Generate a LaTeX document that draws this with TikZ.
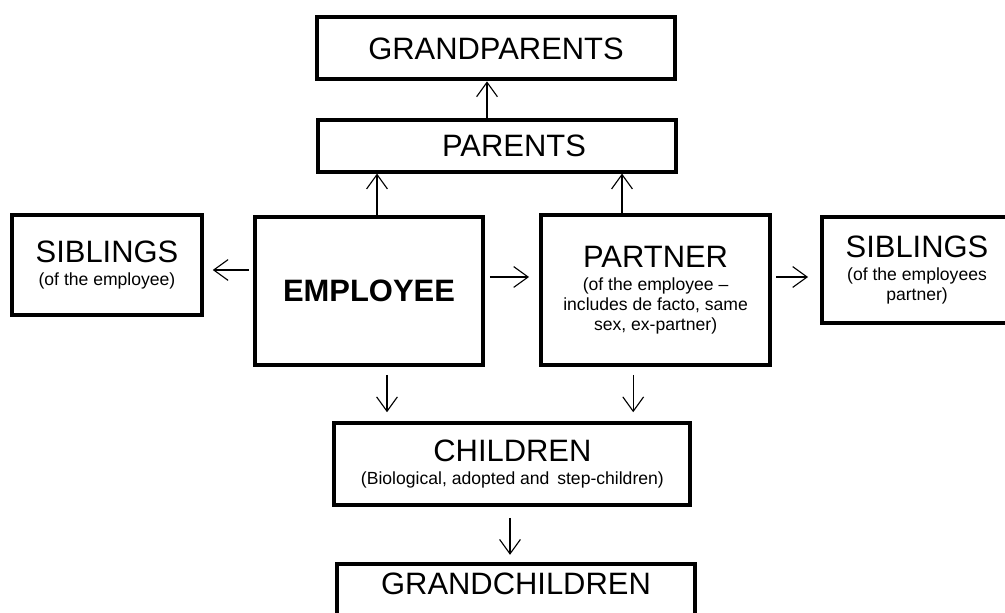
\documentclass[tikz,border=0pt]{standalone}
\usepackage{fontspec}
\setmainfont{Liberation Sans}
\usepackage{tikz}
\usetikzlibrary{arrows.meta, positioning, calc}

\newcommand{\headtxt}{\fontsize{22}{14.2}\selectfont}
\newcommand{\subtxt}{\fontsize{12.5}{14.2}\selectfont}

\begin{document}
\begin{tikzpicture}[
  box/.style={draw, line width=2.8pt, align=center, inner sep=2pt, font=\headtxt},
  arr/.style={-{Straight Barb[length=3.6mm, width=5.2mm]}, line width=0.8pt},
]
  \useasboundingbox (0, 0) rectangle (25.125, 15.3);

  % Grandparents and parents
  \node[box, minimum width=8.95cm, minimum height=1.55cm] (gp) at (12.4, 14.09) {GRANDPARENTS};
  \node[box, minimum width=8.95cm, minimum height=1.3cm] (par) at (12.425, 11.66) {\hspace*{0.85cm}PARENTS};

  % Employee
  \node[box, minimum width=5.7cm, minimum height=3.7cm, font=\headtxt\bfseries] (emp) at (9.225, 8.025) {EMPLOYEE};

  % Partner
  \node[box, minimum width=5.73cm, minimum height=3.75cm] (prt) at (16.39, 8.05)
    {PARTNER\\[2.2pt]\subtxt (of the employee --\\ \subtxt includes de facto, same\\ \subtxt sex, ex-partner)};

  % Siblings
  \node[box, minimum width=4.75cm, minimum height=2.5cm] (sibl) at (2.675, 8.675)
    {SIBLINGS\\[2.2pt]\subtxt (of the employee)};
  \node[box, minimum width=4.75cm, minimum height=2.65cm] (sibr) at (22.925, 8.55)
    {SIBLINGS\\[2.2pt]\subtxt (of the employees\\ \subtxt partner)};

  % Children
  \node[box, minimum width=8.9cm, minimum height=2.05cm] (chl) at (12.81, 3.7)
    {CHILDREN\\[2.2pt]\subtxt (Biological, adopted and\, step-children)};
  \node[box, minimum width=8.95cm, anchor=north, inner ysep=0.22cm, text depth=2cm] (gch) at (12.9, 1.25) {GRANDCHILDREN};

  % Arrows
  \draw[arr] ([xshift=-2.5mm]par.north) -- ([xshift=-2.5mm]par.north |- gp.south);
  \draw[arr] ([xshift=2mm]emp.north) -- ([xshift=2mm]emp.north |- par.south);
  \draw[arr] ([xshift=-8.4mm]prt.north) -- ([xshift=-8.4mm]prt.north |- par.south);
  \draw[arr, shorten <=1mm, shorten >=2.2mm] ([yshift=5.25mm]emp.west) -- ([yshift=5.25mm]emp.west -| sibl.east);
  \draw[arr, shorten <=1.2mm, shorten >=2.5mm] ([yshift=3.5mm]emp.east) -- ([yshift=3.5mm]emp.east -| prt.west);
  \draw[arr, shorten <=1mm, shorten >=3mm] ([yshift=3.25mm]prt.east) -- ([yshift=3.25mm]prt.east -| sibr.west);
  \draw[arr, shorten <=2mm, shorten >=2.2mm] ([xshift=4.5mm]emp.south) -- ([xshift=4.5mm]emp.south |- chl.north);
  \draw[arr, shorten <=2mm, shorten >=2.2mm] ([xshift=-5.6mm]prt.south) -- ([xshift=-5.6mm]prt.south |- chl.north);
  \draw[arr, shorten <=2.7mm, shorten >=1.8mm] ([xshift=-0.6mm]chl.south) -- ([xshift=-0.6mm]chl.south |- gch.north);
\end{tikzpicture}
\end{document}
